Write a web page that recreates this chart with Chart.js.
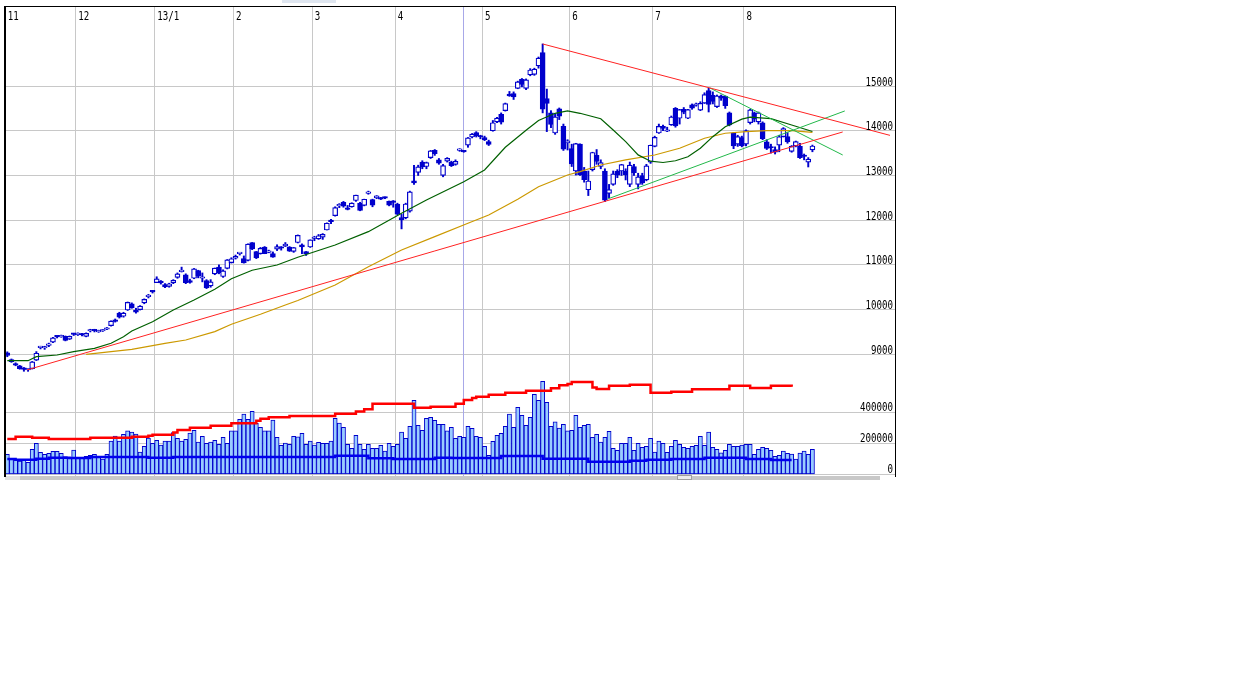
<!DOCTYPE html>
<html>
<head>
<meta charset="utf-8">
<script src="https://cdn.jsdelivr.net/npm/chart.js@4.4.1/dist/chart.umd.min.js"></script>
<style>
  html, body { margin: 0; padding: 0; background: #fff; }
  #wrap { width: 1246px; height: 680px; position: relative; }
</style>
</head>
<body>
<div id="wrap"><canvas id="chart"></canvas></div>
<script>
// month labels along the top, and the index of each month's first session
const monthLabels = ['11', '12', '13/1', '2', '3', '4', '5', '6', '7', '8'];
const monthStartIdx = [0, 17, 36, 55, 74, 94, 115, 136, 156, 178];

const priceTicks = [9000, 10000, 11000, 12000, 13000, 14000, 15000];
const volTicks = [0, 200000, 400000];

// daily candles, one per session (Nov 7 .. Aug 23)
const opens = [
  9030,8880,8790,8740,8690,8650,8680,8870,9150,9140,9200,9270,9400,9390,9400,9340,9450,
  9440,9460,9400,9520,9550,9500,9520,9560,9640,9770,9920,9850,9990,10130,9990,10000,10150,10290,10400,
  10604,10640,10560,10520,10600,10720,10850,10780,10650,10700,10870,10700,10650,10530,10800,10950,10740,10920,11050,
  11150,11250,11140,11100,11500,11300,11250,11400,11280,11250,11350,11400,11420,11400,11300,11500,11450,11300,11400,
  11590,11580,11620,11780,12000,12100,12320,12400,12250,12300,12440,12380,12330,12600,12460,12500,12500,12500,12420,12420,
  12360,12060,12050,12200,12880,13070,13300,13200,13400,13560,13350,13000,13320,13300,13250,13560,13540,13680,13860,13960,13870,
  13850,13760,14000,14200,14370,14450,14820,14830,14950,15150,14950,15250,15260,15450,15750,14720,14400,13950,14490,14100,13730,
  13600,13100,13700,13100,12680,13130,13450,13200,13100,12600,12800,13100,13100,13100,12800,13200,12800,13000,12900,13300,
  13650,13950,14100,13990,14130,14500,14280,14480,14280,14580,14570,14460,14620,14900,14790,14540,14780,14770,14400,13950,13700,13850,
  13700,14180,14400,14200,14180,13750,13640,13580,13680,13870,13870,13540,13660,13650,13450,13300,13570
];
const highs = [
  9055,8895,8810,8752,8705,8680,8840,9060,9180,9180,9250,9380,9420,9430,9410,9410,9470,
  9480,9470,9480,9560,9560,9540,9550,9600,9750,9790,9940,9940,10170,10150,10030,10090,10240,10340,10430,
  10734,10650,10580,10590,10670,10820,10950,10800,10680,10920,10880,10820,10670,10670,10930,11000,10890,11120,11160,
  11220,11270,11200,11470,11500,11300,11390,11410,11330,11290,11450,11410,11500,11410,11390,11670,11470,11300,11560,
  11640,11680,11700,11940,12020,12300,12370,12420,12330,12390,12560,12400,12470,12650,12470,12550,12510,12520,12430,12440,
  12380,12130,12380,12650,13225,13230,13330,13300,13560,13580,13380,13250,13400,13320,13350,13600,13560,13850,13940,13980,13900,
  13880,13790,14230,14300,14400,14620,14880,14870,15110,15170,15160,15390,15400,15650,15942,14932,14450,14380,14510,14150,13800,
  13700,13720,13710,13180,13100,13520,13580,13350,13150,12800,13100,13130,13250,13150,13300,13250,13050,13050,13250,13680,
  13880,14150,14130,14080,14330,14520,14480,14520,14480,14600,14620,14650,14850,14953,14870,14800,14800,14780,14420,13960,13900,13880,
  14020,14480,14420,14420,14200,13800,13700,13640,13900,14070,13960,13670,13770,13720,13480,13400,13680
];
const lows = [
  8945,8820,8743,8665,8620,8619,8670,8860,9120,9110,9170,9260,9365,9380,9300,9330,9420,
  9420,9410,9390,9500,9500,9490,9510,9550,9630,9720,9810,9830,9980,10030,9920,9990,10130,10260,10370,
  10602,10570,10490,10500,10580,10700,10840,10580,10590,10690,10710,10620,10470,10500,10780,10800,10720,10910,11040,
  11130,11220,11040,11090,11340,11140,11240,11250,11270,11170,11320,11330,11410,11300,11280,11490,11250,11210,11390,
  11540,11570,11570,11780,11920,12090,12280,12290,12230,12290,12420,12210,12320,12580,12300,12480,12460,12480,12320,12290,
  12120,11805,12030,12180,12800,13000,13150,13150,13380,13450,13250,12970,13300,13200,13230,13540,13520,13630,13840,13860,13820,
  13780,13670,13990,14180,14150,14440,14770,14700,14940,14980,14920,15230,15240,15400,14400,13981,14070,13920,14250,13560,13570,
  13200,13010,13000,12850,12550,13100,13250,13150,12415,12500,12780,12950,13000,12900,12750,13000,12700,12800,12880,13270,
  13640,13940,14000,13980,14120,14080,14150,14380,14270,14480,14550,14450,14610,14420,14600,14520,14680,14500,14110,13600,13650,13640,
  13660,14150,14200,14150,13800,13580,13500,13480,13530,13860,13720,13520,13640,13380,13350,13190,13530
];
const closes = [
  8972,8837,8757,8676,8661,8664,8829,9024,9153,9142,9222,9366,9389,9423,9308,9400,9446,
  9458,9432,9468,9545,9527,9533,9525,9581,9743,9737,9828,9923,10160,10040,9940,10080,10230,10322,10395,
  10688,10599,10508,10578,10652,10801,10879,10600,10610,10913,10747,10709,10487,10620,10926,10824,10866,11113,11138,
  11191,11260,11046,11463,11357,11153,11369,11251,11307,11173,11407,11372,11468,11309,11385,11662,11399,11253,11559,
  11606,11652,11683,11932,11968,12283,12349,12314,12240,12381,12560,12220,12468,12635,12338,12546,12471,12493,12335,12397,
  12135,12003,12362,12634,12833,13192,13192,13288,13549,13485,13275,13221,13382,13220,13316,13568,13529,13843,13926,13884,13860,
  13799,13694,14180,14285,14191,14607,14782,14758,15096,15037,15138,15360,15381,15627,14483,14612,14142,14311,14326,13589,13774,
  13261,13714,13014,12904,12877,13514,13317,13289,12445,12686,13034,13007,13245,13014,13230,13062,12969,12834,13213,13677,
  13852,14099,14055,14018,14309,14109,14472,14416,14472,14506,14599,14615,14808,14589,14658,14778,14731,14562,14129,13661,13869,13668,
  14005,14466,14258,14401,13824,13605,13615,13519,13867,14050,13752,13650,13758,13397,13424,13366,13660
];
const volumes = [
  129000,103000,92000,86000,97000,77000,161000,200000,142000,129000,135000,148000,148000,135000,114000,107000,157000,
  107000,107000,116000,123000,129000,114000,99000,129000,215000,247000,215000,258000,280000,273000,260000,144000,181000,234000,200000,
  219000,189000,215000,215000,269000,232000,215000,226000,266000,284000,208000,245000,200000,208000,219000,194000,239000,200000,280000,
  280000,355000,389000,355000,406000,329000,303000,280000,280000,350000,239000,187000,202000,194000,245000,241000,264000,194000,215000,
  189000,206000,200000,200000,215000,361000,331000,303000,194000,168000,252000,194000,161000,194000,168000,168000,187000,150000,200000,181000,
  194000,273000,232000,310000,477000,316000,284000,361000,368000,348000,323000,323000,280000,303000,232000,245000,239000,310000,297000,245000,239000,
  181000,123000,213000,252000,264000,310000,389000,303000,432000,381000,316000,368000,516000,477000,600000,464000,310000,338000,299000,323000,280000,
  284000,381000,303000,316000,323000,239000,258000,208000,239000,277000,168000,155000,200000,200000,239000,155000,200000,174000,181000,232000,
  144000,215000,200000,142000,181000,219000,194000,174000,168000,181000,187000,245000,187000,273000,174000,161000,139000,155000,194000,181000,181000,189000,
  194000,194000,129000,161000,174000,168000,155000,116000,123000,150000,135000,131000,99000,137000,150000,129000,161000
];

// moving averages: [session index, value]
const ma25 = [
  [0,8857],[5,8857],[7,8946],[12,8984],[16,9058],[21,9134],[25,9246],[28,9394],[30,9520],[35,9729],
  [40,9991],[45,10215],[50,10454],[54,10690],[59,10880],[65,10998],[70,11170],[79,11445],[87,11743],[95,12154],
  [101,12452],[110,12861],[115,13123],[120,13630],[125,14010],[128,14230],[132,14391],[135,14443],[138,14391],[143,14270],
  [146,14018],[149,13756],[152,13460],[155,13320],[158,13290],[161,13330],[164,13420],[167,13608],[170,13868],[173,14091],
  [177,14260],[179,14305],[184,14270],[189,14130],[194,13984]
];
const ma75 = [
  [19,9000],[25,9058],[30,9112],[35,9192],[38,9246],[43,9320],[50,9506],[54,9671],[61,9895],[67,10103],
  [70,10204],[79,10550],[87,10960],[95,11333],[103,11631],[111,11930],[116,12116],[123,12467],[128,12749],[135,13011],
  [138,13085],[143,13235],[149,13347],[156,13458],[162,13608],[168,13832],[173,13944],[178,13980],[183,14002],[189,14002],
  [194,13966]
];
// trend lines: [start index, price, end index, price]
const trendRed = [[4.75, 8650, 201.3, 13973], [129, 15942, 212.7, 13897]];
const trendGreen = [[144.7, 12475, 201.8, 14443], [169.3, 14957, 201.3, 13458]];

// volume average and open interest, held level from each index on
const volAvg = [
  [0,99000],[2,94000],[7,101000],[10,107000],[15,105000],[20,112000],[34,107000],[40,112000],[79,120000],[87,103000],
  [93,99000],[103,107000],[107,105000],[119,118000],[129,101000],[140,81000],[150,88000],[154,94000],[160,99000],[168,107000],
  [178,99000],[184,92000],[189,92000]
];
const openInt = [
  [0,228000],[2,243000],[6,236000],[10,228000],[20,236000],[30,243000],[34,248000],[35,255000],[40,270000],[41,286000],
  [44,301000],[49,314000],[54,329000],[60,345000],[61,359000],[63,368000],[68,376000],[79,391000],[84,405000],[86,420000],
  [88,455000],[98,430000],[102,436000],[108,455000],[110,480000],[112,492000],[113,501000],[116,514000],[120,526000],[125,539000],
  [131,555000],[133,575000],[135,583000],[136,595000],[141,560000],[142,550000],[145,572000],[150,578000],[155,526000],[160,533000],
  [165,548000],[174,572000],[179,557000],[184,572000],[189,565000]
];

const cursorIndex = 109.9;

if ([highs, lows, closes, volumes].some(a => a.length !== opens.length)) {
  throw new Error('length mismatch ' + [opens, highs, lows, closes, volumes].map(a => a.length).join(','));
}

const BLUE = '#0000cc';
const GRID = '#c8c8c8';

const wickData = closes.map((c, i) => ({ x: i, y: [Math.min(lows[i], opens[i], c), Math.max(highs[i], opens[i], c)] }));
const bodyData = closes.map((c, i) => ({ x: i, y: [opens[i], c] }));
const bodyFill = closes.map((c, i) => c >= opens[i] ? '#ffffff' : BLUE);
const volData = volumes.map((v, i) => ({ x: i, y: v }));
const pts = arr => arr.map(p => ({ x: p[0], y: p[1] }));
const seg = s => [{ x: s[0], y: s[1] }, { x: s[2], y: s[3] }];

function lineSet(data, color, width, axis, order, extra) {
  return Object.assign({
    type: 'line', data, borderColor: color, borderWidth: width, pointRadius: 0,
    fill: false, tension: 0, yAxisID: axis, order
  }, extra || {});
}

const LABEL_FONT = '12px "Liberation Sans Narrow", "DejaVu Sans Mono", monospace';

function drawText(ctx, text, x, y, align) {
  ctx.save();
  ctx.font = LABEL_FONT;
  // keep digits about 5.5px wide like the original bitmap font
  const natural = ctx.measureText('0').width;
  const sx = natural > 6 ? 5.5 / natural : 1;
  const w = ctx.measureText(text).width * sx;
  ctx.translate(align === 'right' ? x - w : x, y);
  ctx.scale(sx, 1);
  ctx.textAlign = 'left';
  ctx.textBaseline = 'alphabetic';
  ctx.fillStyle = '#000';
  ctx.fillText(text, 0, 0);
  ctx.restore();
}

const overlay = {
  id: 'overlay',
  beforeDatasetsDraw(chart) {
    const { ctx, chartArea: a, scales: { x } } = chart;
    const cx = Math.round(x.getPixelForValue(cursorIndex)) + 0.5;
    ctx.save();
    ctx.strokeStyle = '#a8a8e8';
    ctx.lineWidth = 1;
    ctx.beginPath();
    ctx.moveTo(cx, a.top);
    ctx.lineTo(cx, a.bottom);
    ctx.stroke();
    ctx.restore();
  },
  afterDraw(chart) {
    const { ctx, chartArea: a, scales: { x, y, yv } } = chart;
    ctx.save();
    // scroll strip along the bottom and small tab on top
    ctx.fillStyle = '#e2e2e2';
    ctx.fillRect(a.left, a.bottom - 1, 15, 4);
    ctx.fillStyle = '#c8c8c8';
    ctx.fillRect(a.left + 15, a.bottom - 1, a.right - a.left - 30, 4);
    ctx.fillStyle = '#ececec';
    ctx.fillRect(677, a.bottom - 2, 15, 5);
    ctx.strokeStyle = '#a0a0a0';
    ctx.strokeRect(677.5, a.bottom - 1.5, 14, 4);
    ctx.fillStyle = '#dfe6f0';
    ctx.fillRect(282, 0, 54, 3);
    // frame
    ctx.fillStyle = '#000';
    ctx.fillRect(a.left - 1, a.top, 2, a.bottom - a.top);
    ctx.fillRect(a.left - 1, a.top, a.right - a.left + 2, 1);
    ctx.fillRect(a.right, a.top, 1, a.bottom - a.top);
    ctx.restore();

    monthLabels.forEach((t, k) => {
      drawText(ctx, t, x.getPixelForValue(monthStartIdx[k] - 0.5) + 2.5, a.top + 13.5, 'left');
    });
    priceTicks.forEach(v => drawText(ctx, String(v), a.right - 2, y.getPixelForValue(v) - 0.5, 'right'));
    volTicks.forEach(v => drawText(ctx, String(v), a.right - 2, yv.getPixelForValue(v) - 1.5, 'right'));
  }
};

const hiddenAxis = {
  grid: { color: GRID, lineWidth: 1, drawTicks: false, offset: false },
  border: { display: false },
  ticks: { display: false }
};

new Chart(document.getElementById('chart'), {
  type: 'line',
  data: {
    datasets: [
      lineSet(seg(trendRed[0]), '#ff2222', 1, 'y', 0),
      lineSet(seg(trendRed[1]), '#ff2222', 1, 'y', 0),
      lineSet(seg(trendGreen[0]), '#22b84a', 1, 'y', 0),
      lineSet(seg(trendGreen[1]), '#22b84a', 1, 'y', 0),
      lineSet(pts(ma25), '#006000', 1.2, 'y', 1),
      lineSet(pts(ma75), '#cc9900', 1.2, 'y', 1),
      {
        type: 'bar', data: bodyData, yAxisID: 'y', order: 2, grouped: false,
        backgroundColor: bodyFill, borderColor: BLUE, borderWidth: 1.2,
        borderSkipped: false, barThickness: 5, minBarLength: 1.5
      },
      {
        type: 'bar', data: wickData, yAxisID: 'y', order: 3, grouped: false,
        backgroundColor: BLUE, borderWidth: 0, barThickness: 1.3
      },
      lineSet(pts(openInt), '#ff0000', 2.5, 'yv', 1, { stepped: true }),
      lineSet(pts(volAvg), '#0000ee', 2.5, 'yv', 1, { stepped: true }),
      {
        type: 'bar', data: volData, yAxisID: 'yv', order: 5, grouped: false,
        backgroundColor: '#99ccff', borderColor: BLUE, borderWidth: 1,
        borderSkipped: false, barPercentage: 1, categoryPercentage: 1
      }
    ]
  },
  options: {
    responsive: true,
    maintainAspectRatio: false,
    animation: false,
    devicePixelRatio: 1,
    layout: { padding: { left: 5, top: 6, right: 351, bottom: 203 } },
    plugins: { legend: { display: false }, tooltip: { enabled: false } },
    scales: {
      x: Object.assign({}, hiddenAxis, {
        type: 'linear', min: -0.554, max: 213.9, offset: false,
        afterBuildTicks: ax => { ax.ticks = monthStartIdx.map(i => ({ value: i - 0.5 })); }
      }),
      y: Object.assign({}, hiddenAxis, {
        type: 'linear', position: 'right', min: 6255, max: 16791,
        afterBuildTicks: ax => { ax.ticks = priceTicks.map(v => ({ value: v })); }
      }),
      yv: Object.assign({}, hiddenAxis, {
        type: 'linear', position: 'right', min: -17400, max: 3021500,
        afterBuildTicks: ax => { ax.ticks = volTicks.map(v => ({ value: v })); }
      })
    }
  },
  plugins: [overlay]
});
</script>
</body>
</html>
